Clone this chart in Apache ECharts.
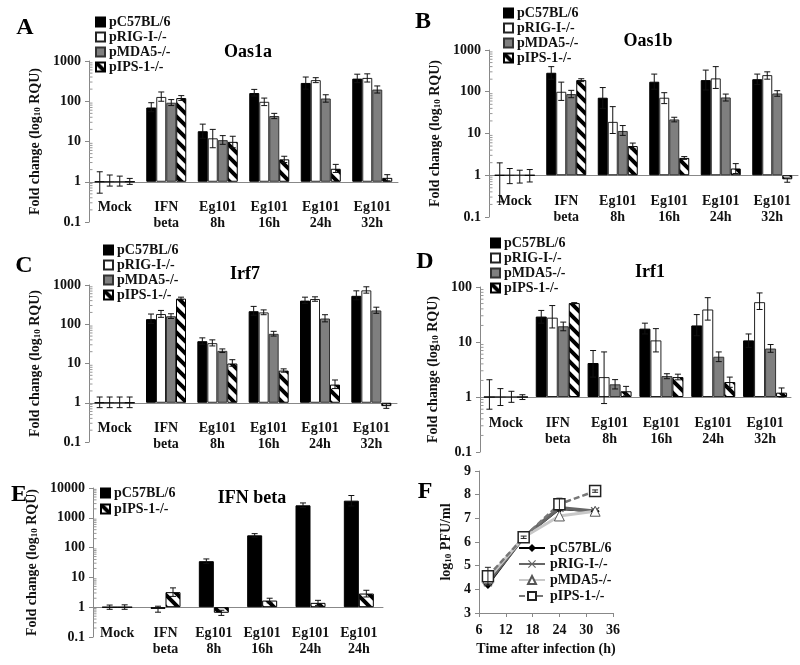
<!DOCTYPE html>
<html>
<head>
<meta charset="utf-8">
<script src="https://cdn.jsdelivr.net/npm/echarts@6/dist/echarts.min.js"></script>
<style>
  body { margin: 0; background: #fff; overflow: hidden; }
  #wrap { position: relative; width: 800px; height: 665px; overflow: hidden; }
  .panel { position: absolute; }
</style>
</head>
<body>
<div id="wrap">
  <div class="panel" id="chartA" style="left:0;top:0;width:400px;height:300px"></div>
  <div class="panel" id="chartB" style="left:400px;top:0;width:400px;height:300px"></div>
  <div class="panel" id="chartC" style="left:0;top:240px;width:400px;height:290px"></div>
  <div class="panel" id="chartD" style="left:400px;top:228px;width:400px;height:300px"></div>
  <div class="panel" id="chartE" style="left:0;top:465px;width:400px;height:200px"></div>
  <div class="panel" id="chartF" style="left:400px;top:460px;width:400px;height:205px"></div>
</div>
<script>
var FONT = '"Liberation Serif", "Times New Roman", serif';

// categories / strains
var cats = ['Mock', 'IFN\nbeta', 'Eg101\n8h', 'Eg101\n16h', 'Eg101\n24h', 'Eg101\n32h'];
var catsE = ['Mock', 'IFN\nbeta', 'Eg101\n8h', 'Eg101\n16h', 'Eg101\n24h', 'Eg101\n24h'];
var strains = ['pC57BL/6', 'pRIG-I-/-', 'pMDA5-/-', 'pIPS-1-/-'];

// A - Oas1a
var oas1a_C57  = [1, 70, 18, 160, 285, 365];
var oas1a_RIG  = [1, 128, 12, 97, 335, 380];
var oas1a_MDA5 = [1, 92, 10.8, 43, 117, 195];
var oas1a_IPS  = [1, 120, 9.8, 3.6, 2.1, 1.25];
var oas1a_lo = [[0.52, 55, 12, 135, 200, 290], [0.78, 100, 7, 78, 290, 300], [0.78, 78, 8.5, 37, 95, 160], [0.86, 105, 7, 3, 1.7, 1.05]];
var oas1a_hi = [[1.77, 92, 27, 197, 400, 470], [1.47, 170, 20, 120, 385, 480], [1.38, 110, 14, 50, 145, 240], [1.21, 138, 13.5, 4.3, 2.7, 1.5]];

// B - Oas1b
var oas1b_C57  = [1, 285, 72, 174, 190, 200];
var oas1b_RIG  = [1, 100, 19, 72, 209, 250];
var oas1b_MDA5 = [1, 88, 11.5, 21.7, 73, 91];
var oas1b_IPS  = [1, 190, 5, 2.6, 1.45, 0.8];
var oas1b_lo = [[0.23, 200, 40, 115, 110, 150], [0.63, 62, 10, 52, 120, 200], [0.65, 72, 9, 19, 60, 78], [0.69, 175, 4.3, 2.4, 1.1, 0.68]];
var oas1b_hi = [[1.98, 400, 126, 265, 330, 265], [1.45, 170, 44, 95, 400, 300], [1.32, 108, 15.5, 24.5, 88, 106], [1.37, 205, 5.9, 2.8, 1.9, 0.86]];

// C - Irf7
var irf7_C57  = [1, 135, 37, 215, 400, 530];
var irf7_RIG  = [1, 182, 33, 200, 440, 730];
var irf7_MDA5 = [1, 160, 21, 57, 140, 225];
var irf7_IPS  = [1, 450, 10, 6.6, 2.9, 0.82];
var irf7_lo = [[0.75, 105, 31, 170, 340, 420], [0.75, 150, 28, 175, 385, 620], [0.75, 140, 19, 50, 115, 190], [0.75, 420, 8.5, 6, 2.3, 0.72]];
var irf7_hi = [[1.4, 182, 45, 285, 490, 710], [1.4, 225, 40, 232, 500, 900], [1.4, 185, 23.5, 66, 175, 272], [1.4, 490, 12.5, 7.3, 3.8, 0.94]];

// D - Irf1
var irf1_C57  = [1, 29, 4.15, 17.5, 20, 10.7];
var irf1_RIG  = [1, 27.7, 2.3, 10.7, 39, 53];
var irf1_MDA5 = [1, 19.3, 1.7, 2.4, 5.4, 7.6];
var irf1_IPS  = [1, 51, 1.27, 2.3, 1.87, 1.2];
var irf1_lo = [[0.6, 22, 2.3, 14, 13, 8], [0.7, 18, 0.76, 6.6, 25, 39], [0.8, 16, 1.4, 2.15, 4.4, 6.5], [0.9, 50, 1.05, 2.05, 1.5, 1.0]];
var irf1_hi = [[2.06, 37.5, 7, 22, 31.5, 14], [1.42, 46, 6.6, 17.5, 64, 78], [1.27, 23, 2.07, 2.65, 6.6, 9], [1.1, 52, 1.56, 2.6, 2.3, 1.46]];

// E - IFN beta
var ifnb_C57 = [1, 0.88, 35, 258, 2620, 3760];
var ifnb_IPS = [1, 3.2, 0.65, 1.67, 1.4, 2.87];
var ifnb_lo = [[0.85, 0.68, 29, 225, 2200, 2500], [0.85, 2.3, 0.53, 1.4, 1.15, 2.2]];
var ifnb_hi = [[1.18, 1.08, 41.6, 294, 3150, 5600], [1.2, 4.45, 0.79, 2.0, 1.7, 3.7]];

// F - virus titre
var times = [8, 16, 24, 32];
var pfu_C57  = [4.2, 6.2, 7.4, 7.3];
var pfu_RIG  = [4.3, 6.2, 7.45, 7.3];
var pfu_MDA5 = [4.45, 6.2, 7.1, 7.3];
var pfu_IPS  = [4.55, 6.2, 7.6, 8.15];
var pfu_IPS_err = [0.38, 0.05, 0.25, 0.05];

// striped fill for pIPS-1-/-
function stripes() {
  var c = document.createElement('canvas');
  c.width = 12; c.height = 12;
  var g = c.getContext('2d');
  g.fillStyle = '#fff';
  g.fillRect(0, 0, 12, 12);
  g.strokeStyle = '#000';
  g.lineWidth = 4;
  g.beginPath();
  g.moveTo(-3, -3); g.lineTo(15, 15);
  g.moveTo(-3, 9); g.lineTo(3, 15);
  g.moveTo(9, -3); g.lineTo(15, 3);
  g.stroke();
  return c;
}
var hatch = {image: stripes(), repeat: 'repeat'};

var barStyles = [
  {color: '#000', borderColor: '#000', borderWidth: 1},
  {color: '#fff', borderColor: '#222', borderWidth: 1},
  {color: '#7f7f7f', borderColor: '#333', borderWidth: 1},
  {color: hatch, borderColor: '#000', borderWidth: 1}
];

var boldText = {fontFamily: FONT, fontWeight: 'bold', fontSize: 14, color: '#111'};

function txt(x, y, s, size) {
  return {type: 'text', x: x, y: y, style: {text: s, fontFamily: FONT, fontWeight: 'bold', fontSize: size, fill: '#000', align: 'center', verticalAlign: 'middle'}};
}

// 2..9 x 10^k positions for the minor ticks of a log axis
function minorVals(min, max) {
  var out = [];
  for (var d = min; d < max; d *= 10) {
    for (var k = 2; k < 10; k++) out.push([0, +(k * d).toPrecision(3)]);
  }
  return out;
}

function errRender(n, bw) {
  return function (params, api) {
    var j = api.value(0);
    var x = api.coord([j, 1])[0] + (api.value(3) - (n - 1) / 2) * bw;
    var yl = api.coord([j, api.value(1)])[1];
    var yh = api.coord([j, api.value(2)])[1];
    var st = {stroke: '#111', lineWidth: 1};
    return {type: 'group', children: [
      {type: 'line', shape: {x1: x, y1: yl, x2: x, y2: yh}, style: st},
      {type: 'line', shape: {x1: x - 3, y1: yl, x2: x + 3, y2: yl}, style: st},
      {type: 'line', shape: {x1: x - 3, y1: yh, x2: x + 3, y2: yh}, style: st}
    ]};
  };
}

function minorRender(params, api) {
  var v = api.value(1);
  var c0 = api.coord([0, v]);
  var band = api.coord([1, v])[0] - c0[0];
  var x = Math.round(c0[0] - band / 2) + 0.5;
  return {type: 'line', shape: {x1: x, y1: c0[1], x2: x + 3, y2: c0[1]}, style: {stroke: '#999', lineWidth: 1}};
}

function drawBars(id, o) {
  var chart = echarts.init(document.getElementById(id));
  var n = o.values.length;
  var decade = o.grid.height / o.decades;
  var series = [];
  for (var i = 0; i < n; i++) {
    series.push({name: o.names[i], type: 'bar', barWidth: o.bw, barGap: '0%', data: o.values[i], itemStyle: o.styles[i], z: 2});
  }
  var errData = [];
  for (i = 0; i < n; i++) {
    for (var j = 0; j < o.cats.length; j++) errData.push([j, o.lo[i][j], o.hi[i][j], i]);
  }
  series.push({type: 'custom', z: 5, silent: true, data: errData, encode: {x: 0, y: [1, 2]}, renderItem: errRender(n, o.bw)});
  series.push({type: 'custom', z: 1, silent: true, data: minorVals(o.min, o.max), encode: {x: 0, y: 1}, renderItem: minorRender});

  chart.setOption({
    animation: false,
    grid: Object.assign({outerBoundsMode: 'none'}, o.grid),
    legend: {
      data: o.names, orient: 'vertical', left: o.legend[0], top: o.legend[1], padding: 0,
      itemWidth: 9, itemHeight: 9, itemGap: o.legendGap || 1, icon: 'rect', selectedMode: false,
      textStyle: {fontFamily: FONT, fontWeight: 'bold', fontSize: 14, color: '#111', padding: [0, 0, 0, -1]}
    },
    xAxis: [
      // axis line and ticks, lifted to the value 1
      {
        type: 'category', data: o.cats, offset: -decade,
        axisLine: {onZero: false, lineStyle: {color: '#888'}},
        axisTick: {length: 5, lineStyle: {color: '#888'}},
        axisLabel: {show: false}
      },
      // category labels, drawn from the plot bottom
      {
        type: 'category', data: o.cats, position: 'bottom',
        axisLine: {show: false, onZero: false}, axisTick: {show: false},
        axisLabel: Object.assign({interval: 0, margin: 18 - decade, lineHeight: 16, verticalAlign: 'top'}, boldText)
      }
    ],
    yAxis: {
      type: 'log', logBase: 10, min: o.min, max: o.max,
      name: 'Fold change (log{s|10} RQU)', nameLocation: 'middle', nameGap: o.nameGap,
      nameTextStyle: Object.assign({rich: {s: {fontFamily: FONT, fontWeight: 'bold', fontSize: 9, color: '#111', verticalAlign: 'bottom'}}}, boldText),
      axisLine: {show: true, lineStyle: {color: '#888'}},
      axisTick: {show: true, length: 4, lineStyle: {color: '#888'}},
      splitLine: {show: false},
      axisLabel: Object.assign({margin: 8, formatter: function (v) { return String(v); }}, boldText)
    },
    graphic: [txt(o.letter[0], o.letter[1], o.letter[2], 24), txt(o.title[0], o.title[1], o.title[2], 18)],
    series: series
  });
}

drawBars('chartA', {
  cats: cats, names: strains, styles: barStyles, bw: 10,
  values: [oas1a_C57, oas1a_RIG, oas1a_MDA5, oas1a_IPS], lo: oas1a_lo, hi: oas1a_hi,
  grid: {left: 89, top: 61, width: 309, height: 161}, decades: 4, min: 0.1, max: 1000, nameGap: 44,
  legend: [95, 15], letter: [25, 28, 'A'], title: [248, 52, 'Oas1a']
});

drawBars('chartB', {
  cats: cats, names: strains, styles: barStyles, bw: 10,
  values: [oas1b_C57, oas1b_RIG, oas1b_MDA5, oas1b_IPS], lo: oas1b_lo, hi: oas1b_hi,
  grid: {left: 89, top: 50, width: 309, height: 167}, decades: 4, min: 0.1, max: 1000, nameGap: 44,
  legend: [103, 6], letter: [23, 22, 'B'], title: [248, 41, 'Oas1b']
});

drawBars('chartC', {
  cats: cats, names: strains, styles: barStyles, bw: 10,
  values: [irf7_C57, irf7_RIG, irf7_MDA5, irf7_IPS], lo: irf7_lo, hi: irf7_hi,
  grid: {left: 89, top: 45, width: 308, height: 157}, decades: 4, min: 0.1, max: 1000, nameGap: 44,
  legend: [103, 3], letter: [24, 26, 'C'], title: [245, 34, 'Irf7']
});

drawBars('chartD', {
  cats: cats, names: strains, styles: barStyles, bw: 11,
  values: [irf1_C57, irf1_RIG, irf1_MDA5, irf1_IPS], lo: irf1_lo, hi: irf1_hi,
  grid: {left: 80, top: 59, width: 311, height: 165}, decades: 3, min: 0.1, max: 100, nameGap: 37,
  legend: [90, 8], letter: [25, 34, 'D'], title: [250, 44, 'Irf1']
});

drawBars('chartE', {
  cats: catsE, names: [strains[0], strains[3]], styles: [barStyles[0], barStyles[3]], bw: 15,
  values: [ifnb_C57, ifnb_IPS], lo: ifnb_lo, hi: ifnb_hi,
  grid: {left: 93, top: 23, width: 290, height: 149}, decades: 5, min: 0.1, max: 10000, nameGap: 48,
  legend: [100, 21], legendGap: 2, letter: [19, 30, 'E'], title: [252, 33, 'IFN beta']
});

// F - line chart
var chartF = echarts.init(document.getElementById('chartF'));
function pts(ys) { return times.map(function (t, k) { return [t, ys[k]]; }); }
var errF = times.map(function (t, k) { return [t, pfu_IPS[k] - pfu_IPS_err[k], pfu_IPS[k] + pfu_IPS_err[k]]; });
chartF.setOption({
  animation: false,
  grid: {left: 79, top: 11, width: 134, height: 142, outerBoundsMode: 'none'},
  legend: {
    orient: 'vertical', left: 118, top: 81, padding: 0, itemWidth: 26, itemHeight: 10, itemGap: 2, selectedMode: false,
    data: strains, textStyle: {fontFamily: FONT, fontWeight: 'bold', fontSize: 14, color: '#111'}
  },
  xAxis: {
    type: 'value', min: 6, max: 36, interval: 6,
    name: 'Time after infection (h)', nameLocation: 'middle', nameGap: 29,
    nameTextStyle: boldText,
    axisLine: {show: true, lineStyle: {color: '#888'}},
    axisTick: {show: true, length: 4, lineStyle: {color: '#888'}},
    splitLine: {show: false},
    axisLabel: Object.assign({margin: 10}, boldText)
  },
  yAxis: {
    type: 'value', min: 3, max: 9, interval: 1,
    name: 'log{s|10} PFU/ml', nameLocation: 'middle', nameGap: 26,
    nameTextStyle: Object.assign({rich: {s: {fontFamily: FONT, fontWeight: 'bold', fontSize: 9, color: '#111', verticalAlign: 'bottom'}}}, boldText),
    axisLine: {show: true, lineStyle: {color: '#888'}},
    axisTick: {show: true, length: 4, lineStyle: {color: '#888'}},
    splitLine: {show: false},
    axisLabel: Object.assign({margin: 8}, boldText)
  },
  graphic: [txt(25, 32, 'F', 24)],
  series: [
    {name: strains[0], type: 'line', data: pts(pfu_C57), symbol: 'diamond', symbolSize: 9,
      lineStyle: {color: '#000', width: 2.5}, itemStyle: {color: '#000'}},
    {name: strains[1], type: 'line', data: pts(pfu_RIG), symbol: 'path://M0,1L1,0L5,4L9,0L10,1L6,5L10,9L9,10L5,6L1,10L0,9L4,5Z', symbolSize: 9,
      lineStyle: {color: '#666', width: 3.5}, itemStyle: {color: '#666'}},
    {name: strains[2], type: 'line', data: pts(pfu_MDA5), symbol: 'triangle', symbolSize: 10,
      lineStyle: {color: '#c8c8c8', width: 3}, itemStyle: {color: '#fff', borderColor: '#555', borderWidth: 1}},
    {name: strains[3], type: 'line', data: pts(pfu_IPS), symbol: 'rect', symbolSize: 11,
      lineStyle: {color: '#777', width: 2.5, type: [6, 3]}, itemStyle: {color: '#fff', borderColor: '#222', borderWidth: 1.5}},
    {type: 'custom', z: 5, silent: true, data: errF, encode: {x: 0, y: [1, 2]},
      renderItem: function (params, api) {
        var lo = api.coord([api.value(0), api.value(1)]);
        var hi = api.coord([api.value(0), api.value(2)]);
        var st = {stroke: '#222', lineWidth: 1};
        return {type: 'group', children: [
          {type: 'line', shape: {x1: lo[0], y1: lo[1], x2: hi[0], y2: hi[1]}, style: st},
          {type: 'line', shape: {x1: hi[0] - 3, y1: hi[1], x2: hi[0] + 3, y2: hi[1]}, style: st},
          {type: 'line', shape: {x1: lo[0] - 3, y1: lo[1], x2: lo[0] + 3, y2: lo[1]}, style: st}
        ]};
      }}
  ]
});
</script>
</body>
</html>
